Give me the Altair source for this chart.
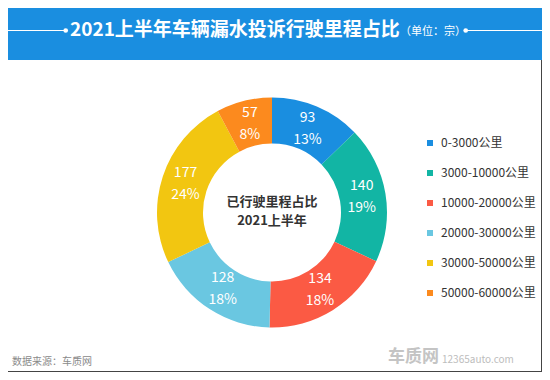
import altair as alt
import pandas as pd

categories = ["0-3000公里", "3000-10000公里", "10000-20000公里",
              "20000-30000公里", "30000-50000公里", "50000-60000公里"]
counts = [93, 140, 134, 128, 177, 57]
percents = ["13%", "19%", "18%", "18%", "24%", "8%"]
colors = ["#1a8ee0", "#12b5a4", "#fb5a44", "#6ac7e1", "#f2c611", "#fc8a1e"]

title_text = ["2021上半年车辆漏水投诉行驶里程占比"]
unit_text = ["（单位：宗）"]
center_line1 = ["已行驶里程占比"]
center_line2 = ["2021上半年"]
source_text = ["数据来源：车质网"]
logo_text = ["车质网"]
logo_url = ["12365auto.com"]

FONT = "Noto Sans CJK SC"
W, H = 534, 364
CX, CY = 264, 204.5
R_OUT, R_IN = 115, 69

df = pd.DataFrame({"cat": categories, "count": counts, "pct": percents,
                   "order": list(range(len(categories)))})

theta = alt.Theta("count:Q", stack=True)
order = alt.Order("order:Q")

arc = alt.Chart(df).mark_arc(outerRadius=R_OUT, innerRadius=R_IN).encode(
    theta=theta,
    order=order,
    color=alt.Color(
        "cat:N",
        scale=alt.Scale(domain=categories, range=colors),
        legend=alt.Legend(
            orient="none", legendX=416, legendY=129, title=None,
            symbolType="square", symbolSize=36, symbolStrokeWidth=0,
            labelFont=FONT, labelFontSize=12, labelColor="#333333",
            rowPadding=18, padding=0, labelOffset=5,
        ),
    ),
    x=alt.value(CX), y=alt.value(CY),
)

lab_n = alt.Chart(df).mark_text(radius=91, dy=-11, font=FONT, fontSize=14,
                                color="white").encode(
    theta=theta, order=order, text="count:N",
    x=alt.value(CX), y=alt.value(CY))
lab_p = alt.Chart(df).mark_text(radius=91, dy=11, font=FONT, fontSize=14,
                                color="white").encode(
    theta=theta, order=order, text="pct:N",
    x=alt.value(CX), y=alt.value(CY))

one = pd.DataFrame({"a": [0]})

header = alt.Chart(one).mark_rect(color="#1a8ee0").encode(
    x=alt.value(0), x2=alt.value(W), y=alt.value(0), y2=alt.value(52))
line_l = alt.Chart(one).mark_rule(color="white", strokeWidth=1).encode(
    x=alt.value(0), x2=alt.value(57), y=alt.value(22.5))
line_r = alt.Chart(one).mark_rule(color="white", strokeWidth=1).encode(
    x=alt.value(458), x2=alt.value(W), y=alt.value(22.5))
dots = alt.Chart(pd.DataFrame({"p": [57.7, 457.7]})).mark_circle(
    color="white", opacity=1, size=22).encode(
    x=alt.X("p:Q", scale=alt.Scale(domain=[0, W], range=[0, W]), axis=None),
    y=alt.value(22.5))

title = alt.Chart(pd.DataFrame({"t": title_text})).mark_text(
    font=FONT, fontSize=19, fontWeight="bold", color="white",
    align="left", baseline="middle").encode(
    text="t:N", x=alt.value(62), y=alt.value(22))
unit = alt.Chart(pd.DataFrame({"t": unit_text})).mark_text(
    font=FONT, fontSize=11, color="white",
    align="left", baseline="middle").encode(
    text="t:N", x=alt.value(392), y=alt.value(23.5))

c1 = alt.Chart(pd.DataFrame({"t": center_line1})).mark_text(
    font=FONT, fontSize=13, fontWeight="bold", color="#333333",
    baseline="middle").encode(text="t:N", x=alt.value(CX), y=alt.value(193.5))
c2 = alt.Chart(pd.DataFrame({"t": center_line2})).mark_text(
    font=FONT, fontSize=13, fontWeight="bold", color="#333333",
    baseline="middle").encode(text="t:N", x=alt.value(CX), y=alt.value(213))

src = alt.Chart(pd.DataFrame({"t": source_text})).mark_text(
    font=FONT, fontSize=10, color="#8a8a8a", align="left",
    baseline="middle").encode(text="t:N", x=alt.value(4), y=alt.value(354))
logo1 = alt.Chart(pd.DataFrame({"t": logo_text})).mark_text(
    font=FONT, fontSize=17, fontWeight="bold", color="#c4c4c4", align="left",
    baseline="middle").encode(text="t:N", x=alt.value(380), y=alt.value(349))
logo2 = alt.Chart(pd.DataFrame({"t": logo_url})).mark_text(
    font=FONT, fontSize=10, color="#bdbdbd", align="left",
    baseline="middle").encode(text="t:N", x=alt.value(434), y=alt.value(352))

border_r = alt.Chart(one).mark_rule(color="#444444", strokeWidth=1).encode(
    x=alt.value(W - 0.5), y=alt.value(52), y2=alt.value(H))
border_b = alt.Chart(one).mark_rule(color="#444444", strokeWidth=1).encode(
    x=alt.value(0), x2=alt.value(W), y=alt.value(H - 0.5))

chart = alt.layer(
    header, line_l, line_r, dots, title, unit,
    arc, lab_n, lab_p, c1, c2, src, logo1, logo2, border_r, border_b,
).properties(
    width=W, height=H, padding=0, autosize=alt.AutoSizeParams(type="none"),
    background="white",
).configure_view(stroke=None)

chart.save("out.html", embed_options={"renderer": "svg", "actions": False})
